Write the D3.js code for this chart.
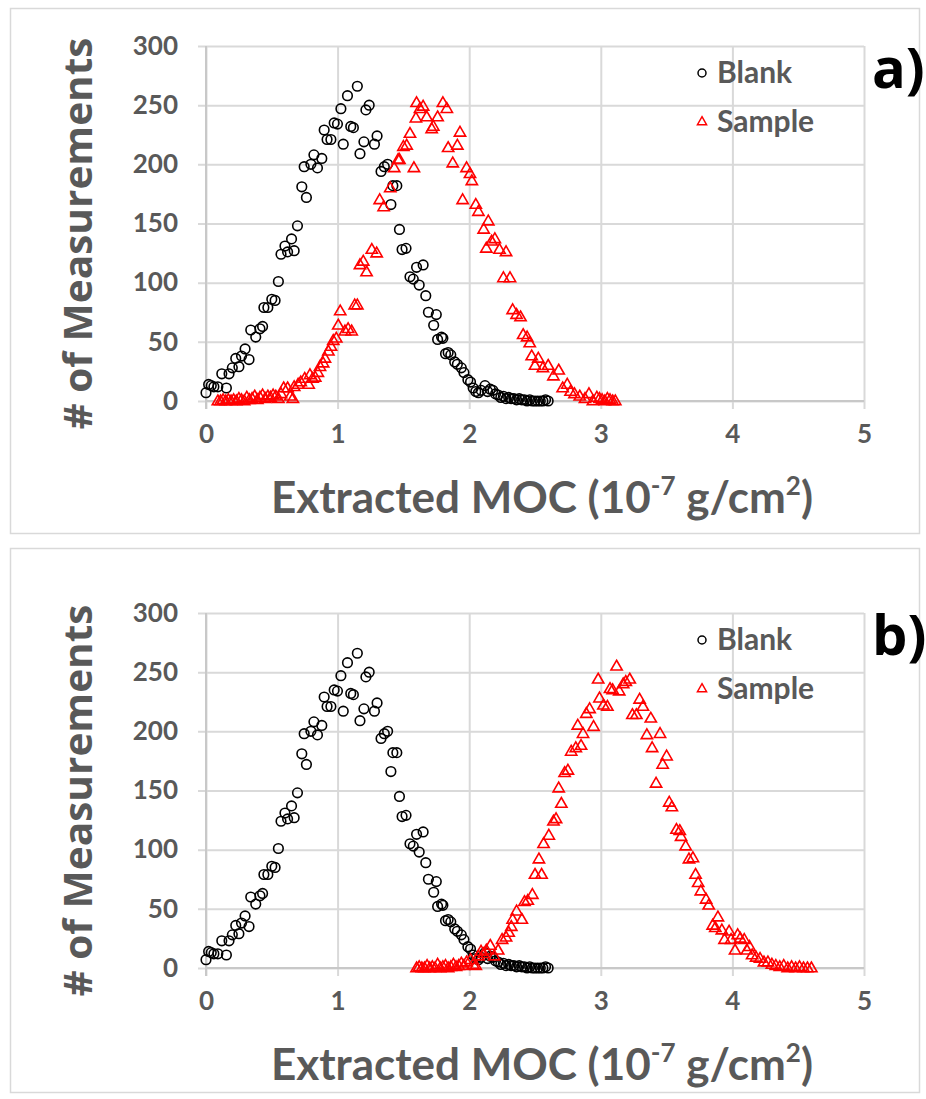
<!DOCTYPE html>
<html><head><meta charset="utf-8">
<script src="https://cdn.jsdelivr.net/npm/d3@7"></script>
<style>
html,body{margin:0;padding:0;background:#fff;}
svg{display:block;}
</style></head>
<body>
<svg id="chart" width="926" height="1099"></svg>
<script>
// ---------- data ----------
const xTicks = [0, 1, 2, 3, 4, 5];
const yTicks = [0, 50, 100, 150, 200, 250, 300];
const seriesNames = ["Blank", "Sample"];
const panelLabels = ["a)", "b)"];
const xTitle = "Extracted MOC (10";
const yTitle = "# of Measurements";

// Blank (same in both panels): [x, count]
const blank = [[0.00,7],[0.02,14],[0.04,13],[0.06,12],[0.09,12],[0.12,23],[0.155,11],[0.175,23],[0.20,28],[0.226,36],[0.25,29],[0.27,38],[0.297,44],[0.327,35],[0.34,60],[0.378,54],[0.41,61],[0.43,63],[0.44,79],[0.47,79],[0.50,86],[0.525,85],[0.55,101],[0.57,124],[0.60,131],[0.62,126],[0.65,137],[0.67,127],[0.695,148],[0.728,181],[0.746,198],[0.763,172],[0.797,200],[0.82,208],[0.847,197],[0.88,205],[0.898,229],[0.92,221],[0.949,221],[0.974,235],[0.999,234],[1.025,247],[1.043,217],[1.075,258],[1.10,232],[1.12,231],[1.15,266],[1.17,209],[1.20,219],[1.215,246],[1.24,250],[1.28,217],[1.30,224],[1.33,194],[1.355,198],[1.38,200],[1.405,166],[1.42,182],[1.45,182],[1.47,145],[1.49,128],[1.52,129],[1.55,105],[1.575,103],[1.60,113],[1.62,98],[1.65,115],[1.67,89],[1.69,75],[1.73,64],[1.75,73],[1.76,52],[1.79,54],[1.80,53],[1.82,40],[1.84,41],[1.86,39],[1.89,33],[1.91,31],[1.94,28],[1.96,24],[1.99,18],[2.01,16],[2.03,11],[2.05,8],[2.07,7],[2.09,9],[2.12,13],[2.14,8],[2.16,10],[2.18,9],[2.20,6],[2.22,5],[2.24,3],[2.26,4],[2.28,2],[2.30,3],[2.32,2],[2.34,2],[2.36,1],[2.38,2],[2.40,1],[2.42,1],[2.44,0],[2.46,1],[2.48,0],[2.50,0],[2.52,0],[2.54,0],[2.56,0],[2.58,1],[2.60,0]];

// Sample, panel a
const sampleA = [[0.09,0],[0.11,0],[0.13,1],[0.15,0],[0.17,1],[0.19,0],[0.21,1],[0.23,0],[0.25,2],[0.27,1],[0.29,0],[0.31,3],[0.33,1],[0.35,2],[0.37,4],[0.39,1],[0.41,3],[0.43,5],[0.45,2],[0.47,4],[0.49,3],[0.51,5],[0.53,4],[0.55,2],[0.57,6],[0.59,11],[0.62,11],[0.64,4],[0.66,2],[0.67,12],[0.70,14],[0.72,16],[0.75,19],[0.78,14],[0.79,22],[0.81,19],[0.83,20],[0.85,24],[0.866,29],[0.89,32],[0.904,36],[0.93,42],[0.95,46],[0.967,51],[0.99,53],[1.005,64],[1.02,76],[1.056,59],[1.08,61],[1.107,59],[1.13,81],[1.15,81],[1.17,115],[1.195,118],[1.22,109],[1.26,128],[1.297,125],[1.32,170],[1.35,164],[1.40,180],[1.43,197],[1.46,204],[1.47,204],[1.50,215],[1.525,216],[1.55,226],[1.58,197],[1.595,239],[1.60,252],[1.626,247],[1.65,249],[1.677,240],[1.715,230],[1.727,232],[1.76,240],[1.80,252],[1.83,247],[1.84,214],[1.875,201],[1.91,216],[1.93,227],[1.95,170],[1.98,197],[2.006,192],[2.02,186],[2.05,166],[2.07,160],[2.11,145],[2.13,129],[2.145,152],[2.17,135],[2.195,137],[2.23,128],[2.26,104],[2.28,126],[2.31,104],[2.33,77],[2.36,73],[2.39,71],[2.41,56],[2.44,54],[2.46,49],[2.475,38],[2.50,30],[2.525,36],[2.56,28],[2.60,30],[2.64,21],[2.68,26],[2.71,11],[2.745,14],[2.77,8],[2.80,6],[2.84,4],[2.88,2],[2.91,6],[2.94,0],[2.97,3],[2.99,2],[3.01,1],[3.03,0],[3.05,2],[3.07,1],[3.09,0],[3.11,0]];

// Sample, panel b
const sampleB = [[1.60,0],[1.62,1],[1.64,0],[1.66,0],[1.68,2],[1.70,0],[1.72,1],[1.74,0],[1.76,3],[1.78,0],[1.80,1],[1.82,2],[1.84,0],[1.86,1],[1.88,3],[1.90,1],[1.92,2],[1.94,4],[1.96,2],[1.98,5],[2.01,7],[2.03,3],[2.05,2],[2.07,10],[2.09,14],[2.11,12],[2.13,15],[2.16,19],[2.19,10],[2.22,15],[2.25,24],[2.28,26],[2.30,30],[2.32,35],[2.33,41],[2.36,48],[2.40,41],[2.42,56],[2.445,57],[2.48,62],[2.50,79],[2.53,92],[2.55,79],[2.565,105],[2.605,112],[2.64,124],[2.66,126],[2.68,152],[2.70,139],[2.725,165],[2.75,167],[2.775,183],[2.81,186],[2.825,205],[2.85,188],[2.865,198],[2.89,215],[2.915,219],[2.945,204],[2.98,244],[2.99,228],[3.02,222],[3.05,221],[3.07,236],[3.09,235],[3.12,255],[3.14,234],[3.17,240],[3.19,242],[3.22,244],[3.24,214],[3.27,214],[3.295,227],[3.32,221],[3.35,197],[3.38,211],[3.39,186],[3.42,156],[3.45,198],[3.47,172],[3.50,179],[3.52,140],[3.54,136],[3.575,117],[3.60,116],[3.61,111],[3.645,103],[3.67,92],[3.70,93],[3.72,79],[3.74,72],[3.76,65],[3.80,58],[3.82,53],[3.85,36],[3.87,34],[3.89,43],[3.92,32],[3.94,24],[3.975,31],[3.99,24],[4.02,15],[4.04,28],[4.06,25],[4.09,24],[4.11,15],[4.13,18],[4.15,11],[4.18,9],[4.21,8],[4.24,5],[4.27,5],[4.30,3],[4.33,2],[4.36,1],[4.39,2],[4.42,0],[4.45,1],[4.48,0],[4.51,1],[4.54,0],[4.57,0],[4.60,0]];

const sampleSets = [sampleA, sampleB];

// ---------- layout ----------
const svg = d3.select("#chart");
const gray = "#595959";
const gridCol = "#d9d9d9";
const panels = [
  {top: 8, bottom: 533, plotTop: 46, plotBottom: 401},
  {top: 548, bottom: 1092, plotTop: 613, plotBottom: 968}
];
const plotLeft = 206, plotRight = 864;

const triPath = d3.symbol().type(d3.symbolTriangle);

panels.forEach((p, i) => {
  const g = svg.append("g");
  // panel frame
  g.append("rect").attr("x", 10.5).attr("y", p.top + 0.5)
    .attr("width", 909).attr("height", p.bottom - p.top)
    .attr("fill", "none").attr("stroke", "#d9d9d9").attr("stroke-width", 1.5);

  const x = d3.scaleLinear().domain([0, 5]).range([plotLeft, plotRight]);
  const y = d3.scaleLinear().domain([0, 300]).range([p.plotBottom, p.plotTop]);

  // horizontal gridlines + y labels
  const yAx = g.append("g").attr("transform", `translate(${plotLeft - 8},0)`)
    .call(d3.axisLeft(y).tickValues(yTicks).tickFormat(d3.format("d"))
      .tickSizeInner(-(plotRight - plotLeft + 8)).tickSizeOuter(0).tickPadding(20));
  yAx.select(".domain").remove();
  yAx.selectAll(".tick line").attr("stroke", gridCol).attr("stroke-width", 2);
  yAx.selectAll(".tick text").attr("fill", gray)
    .style("font-family", "Lato").style("font-weight", 700).style("font-size", "26px");

  // vertical gridlines + x labels
  const xAx = g.append("g").attr("transform", `translate(0,${p.plotTop})`)
    .call(d3.axisBottom(x).tickValues(xTicks).tickFormat(d3.format("d"))
      .tickSizeInner(p.plotBottom - p.plotTop + 8).tickSizeOuter(0).tickPadding(16));
  xAx.select(".domain").remove();
  xAx.selectAll(".tick line").attr("stroke", gridCol).attr("stroke-width", 2);
  xAx.selectAll(".tick text").attr("fill", gray)
    .style("font-family", "Lato").style("font-weight", 700).style("font-size", "26px");

  // axis lines darker
  g.append("line").attr("x1", x(0)).attr("x2", x(5)).attr("y1", y(0)).attr("y2", y(0))
    .attr("stroke", "#c8c8c8").attr("stroke-width", 2);
  g.append("line").attr("x1", x(0)).attr("x2", x(0)).attr("y1", y(300)).attr("y2", y(0) + 8)
    .attr("stroke", "#c8c8c8").attr("stroke-width", 2);

  // Blank markers
  g.append("g").selectAll("circle").data(blank).join("circle")
    .attr("cx", d => x(d[0])).attr("cy", d => y(d[1])).attr("r", 4.8)
    .attr("fill", "none").attr("stroke", "#000").attr("stroke-width", 1.6);

  // Sample markers
  g.append("g").selectAll("path").data(sampleSets[i]).join("path")
    .attr("d", triPath.size(55)())
    .attr("transform", d => `translate(${x(d[0])},${y(d[1]) + 0.5})`)
    .attr("fill", "none").attr("stroke", "#ff0000").attr("stroke-width", 1.6);

  // y title
  g.append("text")
    .attr("transform", `translate(92,${(p.plotTop + p.plotBottom) / 2 + 10}) rotate(-90)`)
    .attr("text-anchor", "middle")
    .attr("fill", gray).style("font-family", "Open Sans").style("font-weight", 700).style("font-size", "40px")
    .attr("textLength", 392).attr("lengthAdjust", "spacingAndGlyphs")
    .text(yTitle);

  // x title with superscripts
  const xt = g.append("text")
    .attr("x", 542).attr("y", p.plotBottom + 112)
    .attr("text-anchor", "middle")
    .attr("fill", gray).style("font-family", "Lato").style("font-weight", 700).style("font-size", "44px");
  xt.append("tspan").text(xTitle);
  xt.append("tspan").attr("dy", -18).style("font-size", "26px").text("-7");
  xt.append("tspan").attr("dy", 18).text(" g/cm");
  xt.append("tspan").attr("dy", -18).style("font-size", "26px").text("2");
  xt.append("tspan").attr("dy", 18).text(")");

  // legend
  const lg = g.append("g");
  lg.append("circle").attr("cx", 702).attr("cy", p.plotTop + 27).attr("r", 4)
    .attr("fill", "none").attr("stroke", "#000").attr("stroke-width", 1.5);
  lg.append("text").attr("x", 717).attr("y", p.plotTop + 37)
    .attr("fill", gray).style("font-family", "Lato").style("font-weight", 700).style("font-size", "30px")
    .text(seriesNames[0]);
  lg.append("path").attr("d", triPath.size(36)())
    .attr("transform", `translate(702,${p.plotTop + 76})`)
    .attr("fill", "none").attr("stroke", "#ff0000").attr("stroke-width", 1.5);
  lg.append("text").attr("x", 717).attr("y", p.plotTop + 86)
    .attr("fill", gray).style("font-family", "Lato").style("font-weight", 700).style("font-size", "30px")
    .text(seriesNames[1]);

  // panel label
  g.append("text").attr("x", 872).attr("y", p.plotTop + 42)
    .attr("fill", "#000").style("font-family", "Open Sans").style("font-weight", 700).style("font-size", "56px")
    .text(panelLabels[i]);
});
</script>
</body></html>
